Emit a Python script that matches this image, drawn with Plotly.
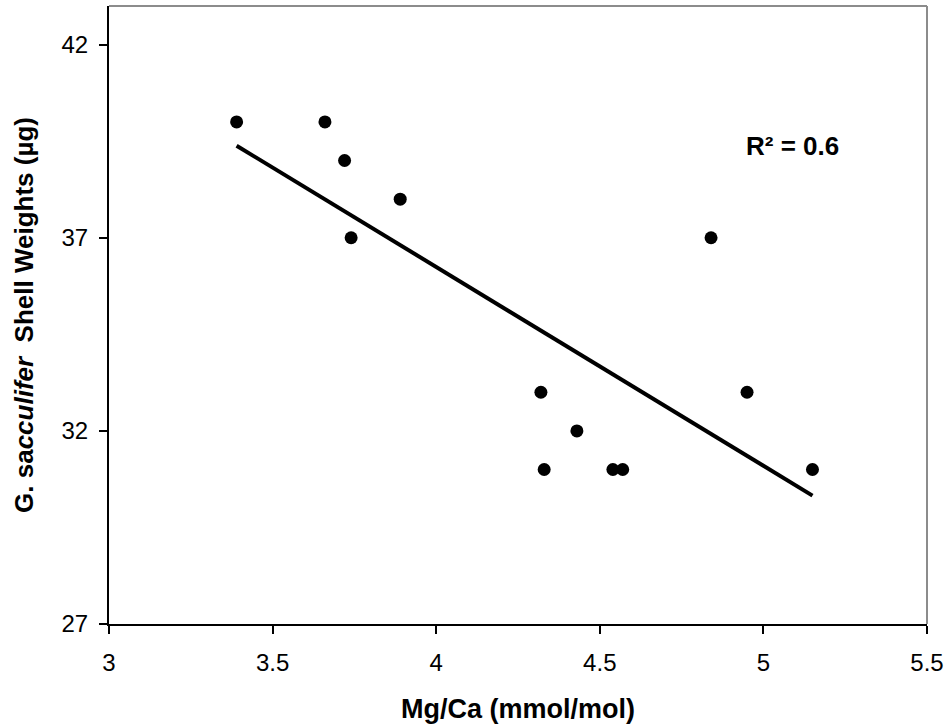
import numpy as np
import plotly.graph_objects as go

mg_ca = [3.39, 3.66, 3.72, 3.89, 3.74, 4.32, 4.43, 4.33, 4.54, 4.57, 4.95, 5.15, 4.84]
shell_weight = [40, 40, 39, 38, 37, 33, 32, 31, 31, 31, 33, 31, 37]
x_ticks = [3, 3.5, 4, 4.5, 5, 5.5]
y_ticks = [27, 32, 37, 42]
r2_label = "R² = 0.6"

x = np.array(mg_ca)
y = np.array(shell_weight)
slope, intercept = np.polyfit(x, y, 1)
xl = np.array([x.min(), x.max()])
yl = slope * xl + intercept

FONT = "Liberation Sans, Arial, sans-serif"

fig = go.Figure()
fig.add_trace(go.Scatter(x=xl, y=yl, mode="lines",
                         line=dict(color="black", width=4), showlegend=False))
fig.add_trace(go.Scatter(x=mg_ca, y=shell_weight, mode="markers",
                         marker=dict(color="black", size=13, symbol="circle"),
                         showlegend=False))

fig.update_layout(
    width=952, height=726,
    margin=dict(l=109, r=25, t=6, b=102),
    plot_bgcolor="white", paper_bgcolor="white",
    font=dict(family=FONT, color="black"),
    xaxis=dict(range=[3, 5.5], tickvals=x_ticks, ticktext=[str(v) for v in x_ticks],
               showgrid=False, zeroline=False, showline=True, linecolor="black", linewidth=2,
               ticks="outside", ticklen=8, tickwidth=2, tickcolor="black",
               tickfont=dict(size=24), ticklabelstandoff=8,
               title=dict(text="<b>Mg/Ca (mmol/mol)</b>", font=dict(size=27), standoff=24)),
    yaxis=dict(range=[27, 43], tickvals=y_ticks,
               showgrid=False, zeroline=False, showline=True, linecolor="black", linewidth=2,
               ticks="outside", ticklen=8, tickwidth=2, tickcolor="black",
               tickfont=dict(size=24), ticklabelstandoff=6,
               title=dict(text="<b>G. sa<i>cculifer</i>  Shell Weights (µg)</b>",
                          font=dict(size=26), standoff=20)),
    shapes=[
        dict(type="line", xref="paper", yref="paper", x0=0, x1=1, y0=1, y1=1,
             line=dict(color="#8c8c8c", width=2)),
        dict(type="line", xref="paper", yref="paper", x0=1, x1=1, y0=0, y1=1,
             line=dict(color="#8c8c8c", width=2)),
    ],
    annotations=[dict(x=0.835, y=0.7735, xref="paper", yref="paper", text="<b>" + r2_label + "</b>",
                      showarrow=False, font=dict(size=26), xanchor="center", yanchor="middle")],
)

fig.write_html("out.html", config={"displayModeBar": False},
               post_script="document.body.style.margin='0px';")
